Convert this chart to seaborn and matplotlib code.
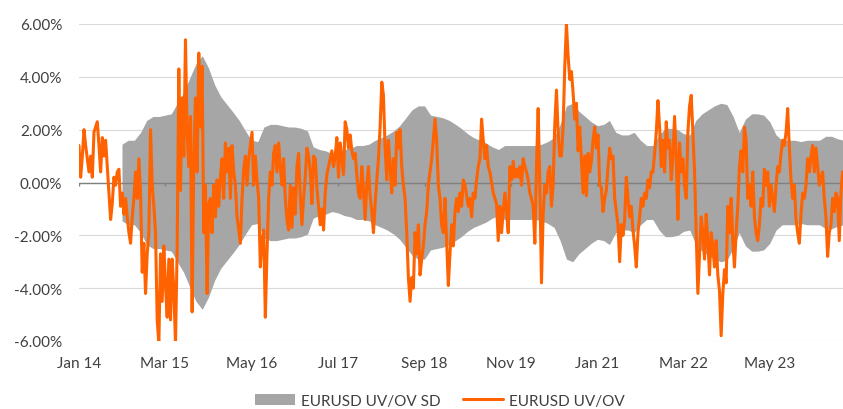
import numpy as np
import pandas as pd
import matplotlib
matplotlib.use("Agg")
import matplotlib.pyplot as plt
import matplotlib.dates as mdates
import seaborn as sns

# EURUSD under/over-valuation (%), ~8-day steps Jan 2014 - Apr 2024
uvov_2014_2016 = [
    1.4, 0.2, 1.0, 2.0, 1.4, 0.9, 0.4, 1.0, 0.2, 1.9,
    2.1, 2.3, 1.4, 0.4, 1.7, 1.0, 1.6, 0.6, -0.4, -1.4,
    -0.8, 0.2, -0.1, 0.4, 0.5, -0.9, -0.4, -1.2, -0.6, -1.3,
    -1.9, -2.3, -1.3, -0.6, 0.4, -0.6, 0.9, -0.4, -3.4, -2.3,
    -4.2, -2.7, -1.9, 2.0, -0.1, -0.9, -1.9, -5.2, -6.1, -2.7,
    -4.5, -2.4, -3.9, -5.1, -2.9, -5.2, -2.9, -4.1, -6.1, -2.5,
    4.3, -0.3, 3.2, 1.0, 5.4, 1.9, 0.6, 2.5, -4.9, 0.9,
    3.2, 0.4, 4.9, 2.1, 4.4, -1.9, -0.1, -4.2, -0.8, -0.6,
    -1.9, -0.1, -1.3, 0.1, -0.9, 0.2, 0.9, -0.6, 1.5, 0.4,
    1.3, -0.6, 1.4, 0.4, -0.1, -1.3, -1.8, -2.3, -0.6, 0.5,
    1.0, -0.1, 0.9, 1.4, 1.9, -0.1, 1.0, 0.1, -0.6, -3.2,
    -2.2, -1.8, -5.1, -2.7, -0.6, 0.4, -0.1, 1.1, 1.4, 0.4,
    1.5, 0.6, -0.1, 0.9, -0.6, -1.4, -1.8, -0.1,
]
uvov_2016_2020 = [
    -1.7, -0.2, -1.2, 0.6, 1.1, -0.5, -1.6, -0.6, 0.2, 1.3,
    1.0, 0.4, -0.8, 1.0, 0.9, -0.2, -0.9, -1.6, -1.0, -1.8,
    -0.4, 0.3, 0.6, 0.9, 1.2, 0.6, 1.0, 1.7, 0.2, 1.5,
    0.9, 0.3, 2.3, 2.0, 1.3, 1.8, 1.2, 0.9, 1.1, 0.3,
    -0.4, -0.6, 0.6, -0.3, -1.4, -0.1, 0.6, -0.5, -1.1, -1.9,
    -0.8, 0.1, 0.9, 2.1, 3.8, 3.3, 1.3, 0.1, 1.6, 0.6,
    -0.4, 0.9, -0.1, 1.9, 1.3, 2.0, 0.6, -0.1, -0.6, -1.9,
    -3.6, -4.5, -3.6, -4.0, -1.9, -2.7, -1.6, -3.5, -2.9, -2.4,
    -1.6, -1.1, -0.1, 0.4, 0.9, 1.6, 2.4, 1.6, -0.1, -0.6,
    -1.6, -1.9, -0.6, -2.2, -3.9, -2.7, -1.6, -2.4, -1.1, -0.6,
    -1.1, -0.4, -0.9, 0.1, -0.1, -0.5, -0.9, -0.6, -1.3, -0.4,
    -0.6, 0.1, 0.6, 0.9, 2.4, 1.6, 0.9, 1.4, 0.6, 0.4,
    0.0, -0.4, -0.6, -0.8, -2.2, -0.9, -1.9, -1.1, -0.4, -1.1,
    -1.9, 0.6, 0.1, 0.8, 0.2, 0.5, 0.2, 0.6, -0.1, 0.9,
    0.6, 0.4, 0.1, -0.4, -0.6, -0.9, -2.3, 0.6, 2.8, -0.1,
    -3.8, -1.2, -0.1, -0.4, 0.4, 0.6, -0.9, -0.1, 2.2, 3.5,
    1.9, 1.0, 1.0, 2.1, 4.4, 6.0, 4.8, 3.9,
]
uvov_2020_2024 = [
    4.2, 3.4, 2.4, 3.0, 1.2, 2.1, 0.9, -0.4, 1.0, -0.5,
    1.1, 0.4, 0.8, 1.6, 2.1, 1.3, 1.8, -0.1, -0.2, -1.1,
    -0.6, -0.3, 0.6, 1.3, 0.9, 1.0, -0.6, -1.1, -1.6, -3.0,
    -1.6, -2.0, -1.4, 0.2, -0.6, -1.3, -0.9, -1.8, -2.4, -3.2,
    -1.9, -1.3, -0.6, -0.9, -0.4, -0.6, 0.1, -0.2, 0.4, 0.4,
    1.1, 1.9, 3.1, 2.1, 0.6, 1.6, 0.4, 2.3, 1.3, 1.6,
    0.1, 1.0, 2.5, 1.0, -1.4, 1.5, 0.4, 0.9, -0.1, -0.6,
    1.9, 2.9, 3.3, 1.9, 0.4, -1.9, -4.2, -2.7, -1.3, -1.9,
    -2.9, -1.2, -2.2, -3.5, -1.9, -2.4, -3.2, -2.2, -3.5, -4.1,
    -5.8, -4.2, -3.3, -3.8, -0.9, -1.9, -0.6, -2.2, -3.2, -1.9,
    -0.9, 0.6, 1.2, 0.4, 2.1, 1.6, -0.6, -0.1, -0.9, 0.4,
    -1.3, -1.9, -2.2, -1.6, -0.6, -0.9, 0.5, -0.1, 0.4, -0.9,
    -0.1, -0.6, -1.1, -0.1, 0.6, 0.4, 1.1, 1.6, 1.4, 1.9,
    2.8, 1.3, 0.1, -0.6, -0.1, -1.4, -1.9, -2.3, -1.2, -0.4,
    -0.6, -0.1, 0.9, 0.4, 1.0, 1.4, 0.4, 1.3, 0.6, -0.1,
    0.2, 0.4, -0.6, -1.3, -2.8, -1.9, -1.6, -0.6, -1.1, -0.4,
    -0.6, -2.2, -0.4, 0.4,
]
uvov = uvov_2014_2016 + uvov_2016_2020 + uvov_2020_2024
uvov_dates = pd.date_range("2014-01-01", "2024-04-24", periods=len(uvov))

# one standard deviation band (monthly, from Aug 2014)
sd_band = [
    1.45, 1.6, 1.6, 1.9, 2.35, 2.5, 2.5, 2.55, 2.6, 3.0,
    3.4, 3.95, 4.5, 4.8, 4.35, 3.7, 3.25, 2.95, 2.65, 2.35,
    1.95, 1.6, 1.55, 2.1, 2.2, 2.2, 2.15, 2.1, 2.1, 2.05,
    1.95, 1.35, 1.25, 1.2, 1.1, 1.15, 1.25, 1.3, 1.4, 1.4,
    1.45, 1.6, 1.7, 1.8, 1.95, 2.15, 2.45, 2.75, 2.9, 2.9,
    2.55, 2.5, 2.45, 2.35, 2.2, 2.05, 1.85, 1.7, 1.6, 1.5,
    1.35, 1.25, 1.4, 1.4, 1.4, 1.4, 1.4, 1.4, 1.45, 1.55,
    1.7, 2.2, 2.9, 3.0, 2.7, 2.5, 2.3, 2.15, 2.2, 2.35,
    1.9, 1.8, 1.8, 1.9, 1.6, 1.4, 1.4, 1.8, 2.05, 2.05,
    2.0, 1.85, 1.8, 2.35, 2.6, 2.75, 2.9, 3.0, 2.95, 2.5,
    1.9, 2.4, 2.6, 2.6, 2.55, 2.3, 1.8, 1.6, 1.6, 1.6,
    1.55, 1.6, 1.6, 1.6, 1.75, 1.75, 1.65, 1.6,
]
sd_dates = pd.date_range("2014-08-01", periods=len(sd_band), freq="MS")

tick_dates = pd.date_range("2014-01-01", periods=9, freq="14MS")
y_ticks = [-6, -4, -2, 0, 2, 4, 6]

ORANGE = "#FF6200"
BAND = "#A6A6A6"
TEXT = "#404040"

sns.set_style("white")
plt.rcParams["font.family"] = ["Lato", "DejaVu Sans"]

fig = plt.figure(figsize=(8.43, 4.10), dpi=100)
ax = fig.add_axes([79 / 843, 1 - 342 / 410, 764 / 843, 317 / 410])

sd = np.array(sd_band)
band = ax.fill_between(sd_dates, -sd, sd, color=BAND, linewidth=0, zorder=1,
                       label="EURUSD UV/OV SD")
ax.axhline(0, color="#808080", linewidth=1.0, zorder=2)
ax.vlines(tick_dates, -0.15, 0, color="#808080", linewidth=1.0, zorder=2)

sns.lineplot(x=uvov_dates, y=uvov, ax=ax, color=ORANGE, linewidth=2.2,
             zorder=3, label="EURUSD UV/OV")

ax.set_ylim(-6, 6)
ax.set_xlim(pd.Timestamp("2014-01-01"), pd.Timestamp("2024-04-26"))
ax.set_yticks(y_ticks)
ax.set_yticklabels([f"{v:.2f}%" for v in y_ticks])
ax.set_xticks(tick_dates)
ax.xaxis.set_major_formatter(mdates.DateFormatter("%b %y"))
ax.yaxis.grid(True, color="#D9D9D9", linewidth=0.8, zorder=0)
ax.set_axisbelow(True)
for s in ax.spines.values():
    s.set_visible(False)
ax.tick_params(axis="both", length=0, labelsize=11, colors=TEXT)
ax.tick_params(axis="y", pad=12)
ax.tick_params(axis="x", pad=11)
ax.set_xlabel("")
ax.set_ylabel("")

handles, labels = ax.get_legend_handles_labels()
ax.get_legend().remove()
fig.legend(handles, labels, loc="center", bbox_to_anchor=(0.522, 0.02),
           ncol=2, frameon=False, fontsize=11, handlelength=2.6,
           handletextpad=0.4, columnspacing=1.5, labelcolor=TEXT)

fig.savefig("out.png", dpi=100)
